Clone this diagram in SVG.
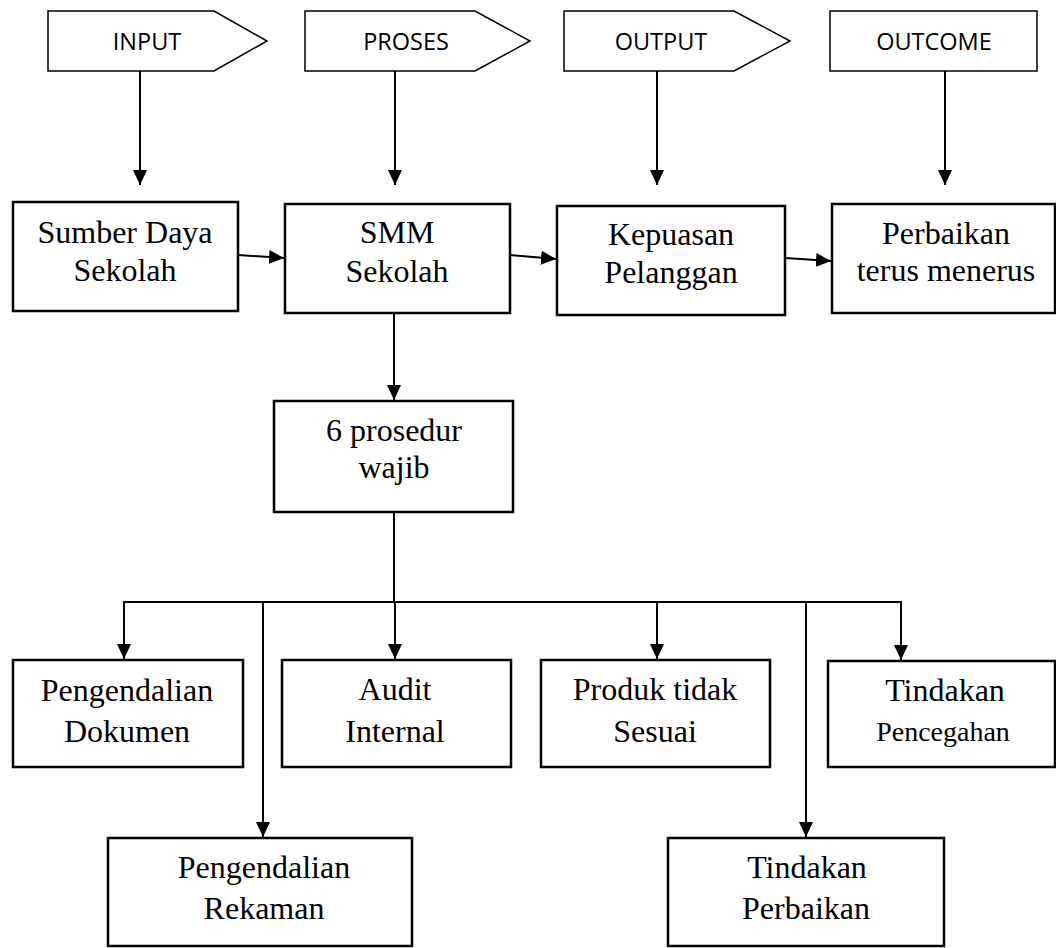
<svg xmlns="http://www.w3.org/2000/svg" width="1056" height="948" viewBox="0 0 1056 948">
<defs>
<style>
.tag{fill:#fff;stroke:#000;stroke-width:1.5}
.box{fill:#fff;stroke:#000;stroke-width:2.5}
.tt{font-family:"Open Sans","Liberation Sans",sans-serif;font-size:23.5px;text-anchor:middle;fill:#000}
.bt{font-family:"Liberation Serif","Times New Roman",serif;font-size:32px;text-anchor:middle;fill:#000}
.sm{font-size:28px}
.cn{fill:none;stroke:#000;stroke-width:2}
.ar{marker-end:url(#ah)}
</style>
<marker id="ah" markerUnits="userSpaceOnUse" markerWidth="15" markerHeight="14" refX="15" refY="7" orient="auto">
<path d="M0,0 L15,7 L0,14 z" fill="#000"/>
</marker>
</defs>
<rect width="1056" height="948" fill="#fff"/>

<g id="input">
<polygon class="tag" points="48,11 214,11 267,41 214,71 48,71"/>
<text class="tt" x="147" y="50">INPUT</text>
</g>
<g id="proses">
<polygon class="tag" points="305,11 475,11 530,41 475,71 305,71"/>
<text class="tt" x="406" y="50">PROSES</text>
</g>
<g id="output">
<polygon class="tag" points="564,11 734,11 790,41 734,71 564,71"/>
<text class="tt" x="661" y="50">OUTPUT</text>
</g>
<g id="outcome">
<rect class="tag" x="830" y="11" width="207" height="60"/>
<text class="tt" x="934" y="50">OUTCOME</text>
</g>

<g id="sumber">
<rect class="box" x="13" y="202" width="225" height="109"/>
<text class="bt" x="125" y="243">Sumber Daya</text>
<text class="bt" x="125" y="281">Sekolah</text>
</g>
<g id="smm">
<rect class="box" x="285" y="204" width="225" height="109"/>
<text class="bt" x="397" y="243">SMM</text>
<text class="bt" x="397" y="282">Sekolah</text>
</g>
<g id="kepuasan">
<rect class="box" x="557" y="206" width="228" height="109"/>
<text class="bt" x="671" y="245">Kepuasan</text>
<text class="bt" x="671" y="283">Pelanggan</text>
</g>
<g id="perbaikan-terus">
<rect class="box" x="832" y="204" width="223" height="109"/>
<text class="bt" x="946" y="244">Perbaikan</text>
<text class="bt" x="946" y="281">terus menerus</text>
</g>
<g id="prosedur">
<rect class="box" x="274" y="401" width="239" height="111"/>
<text class="bt" x="394" y="441">6 prosedur</text>
<text class="bt" x="394" y="478">wajib</text>
</g>
<g id="dokumen">
<rect class="box" x="13" y="660" width="230" height="107"/>
<text class="bt" x="127" y="701">Pengendalian</text>
<text class="bt" x="127" y="742">Dokumen</text>
</g>
<g id="audit">
<rect class="box" x="282" y="660" width="229" height="107"/>
<text class="bt" x="395" y="700">Audit</text>
<text class="bt" x="395" y="742">Internal</text>
</g>
<g id="produk">
<rect class="box" x="541" y="660" width="229" height="107"/>
<text class="bt" x="655" y="700">Produk tidak</text>
<text class="bt" x="655" y="742">Sesuai</text>
</g>
<g id="pencegahan">
<rect class="box" x="828" y="661" width="227" height="106"/>
<text class="bt" x="945" y="701">Tindakan</text>
<text class="bt sm" x="943" y="741">Pencegahan</text>
</g>
<g id="rekaman">
<rect class="box" x="108" y="838" width="304" height="108"/>
<text class="bt" x="264" y="878">Pengendalian</text>
<text class="bt" x="264" y="919">Rekaman</text>
</g>
<g id="perbaikan">
<rect class="box" x="668" y="838" width="276" height="108"/>
<text class="bt" x="807" y="878">Tindakan</text>
<text class="bt" x="806" y="919">Perbaikan</text>
</g>

<g id="connectors">
<path class="cn ar" d="M140,71 V185"/>
<path class="cn ar" d="M395,71 V185"/>
<path class="cn ar" d="M657,71 V185"/>
<path class="cn ar" d="M945,71 V185"/>
<path class="cn ar" d="M238,255 L284,258"/>
<path class="cn ar" d="M510,255 L556,259"/>
<path class="cn ar" d="M785,258 L831,261"/>
<path class="cn ar" d="M394,313 V400"/>
<path class="cn" d="M394,513 V602"/>
<path class="cn" d="M123,602 H902"/>
<path class="cn ar" d="M124,602 V659"/>
<path class="cn ar" d="M395,602 V659"/>
<path class="cn ar" d="M657,602 V659"/>
<path class="cn ar" d="M901,602 V660"/>
<path class="cn ar" d="M263,602 V837"/>
<path class="cn ar" d="M806,602 V837"/>
</g>
</svg>
